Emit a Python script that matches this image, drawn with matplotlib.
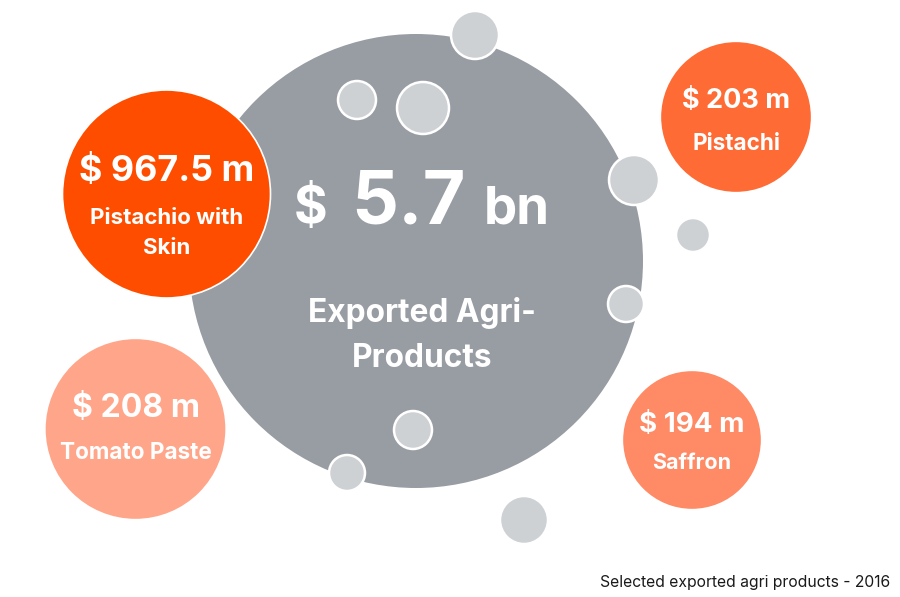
import matplotlib
matplotlib.use("Agg")
import matplotlib.pyplot as plt
from matplotlib.patches import Circle

# ---- data ----
total_value = "5.7"
total_prefix = "$"
total_unit = "bn"
total_label = ["Exported Agri-", "Products"]

products = ["Pistachio with\nSkin", "Pistachi", "Tomato Paste", "Saffron"]
product_values = ["$ 967.5 m", "$ 203 m", "$ 208 m", "$ 194 m"]
footnote = "Selected exported agri products - 2016"

# ---- layout (pixel space) ----
big_circle = dict(xy=(416, 261), r=227)
product_layout = [
    dict(xy=(166.5, 194), r=104, color="#FF4D00", vsize=25.8, lsize=16, vy=181, ly=[224, 254], edge=True),
    dict(xy=(736, 117), r=74, color="#FF6B35", vsize=19.5, lsize=16.2, vy=108, ly=[150], edge=False),
    dict(xy=(135.5, 429), r=89, color="#FFA68A", vsize=23, lsize=16.2, vy=417, ly=[459], edge=False),
    dict(xy=(692, 440), r=68, color="#FF8A66", vsize=20, lsize=15.5, vy=432, ly=[469], edge=False),
]
small_bubbles = [
    ((475, 35), 24), ((357, 100), 19), ((423, 108), 26), ((634, 180), 25),
    ((693, 235), 17), ((626, 304), 18), ((413, 430), 19), ((347, 473), 18),
    ((524, 520), 24),
]

FONT = ["Inter", "DejaVu Sans"]
plt.rcParams["font.family"] = FONT

fig = plt.figure(figsize=(9, 5.97), dpi=100)
ax = fig.add_axes([0, 0, 1, 1])
ax.set_xlim(0, 900)
ax.set_ylim(597, 0)
ax.set_aspect("equal")
ax.axis("off")

ax.add_patch(Circle(big_circle["xy"], big_circle["r"], facecolor="#989CA3",
                    edgecolor="none", zorder=1))

for (xy, r) in small_bubbles:
    ax.add_patch(Circle(xy, r, facecolor="#CED1D4", edgecolor="white",
                        linewidth=1.8, zorder=3))

for name, val, lay in zip(products, product_values, product_layout):
    ax.add_patch(Circle(lay["xy"], lay["r"], facecolor=lay["color"],
                        edgecolor="white" if lay["edge"] else lay["color"],
                        linewidth=1.2, zorder=2))
    cx = lay["xy"][0]
    ax.text(cx, lay["vy"], val, color="white", fontsize=lay["vsize"],
            fontweight="bold", ha="center", va="baseline", zorder=5)
    for line, y in zip(name.split("\n"), lay["ly"]):
        ax.text(cx, y, line, color="white", fontsize=lay["lsize"],
                fontweight="bold", ha="center", va="baseline", zorder=5)

# big value with mixed sizes
fig.canvas.draw()
renderer = fig.canvas.get_renderer()
pieces = [(total_prefix, 37), (total_value, 53), (total_unit, 38)]
gaps = [24, 18]
tmp = []
widths = []
for s, fs in pieces:
    t = ax.text(0, 223, s, fontsize=fs, fontweight="bold", color="white",
                ha="left", va="baseline", zorder=5)
    bb = t.get_window_extent(renderer=renderer)
    widths.append(bb.width)
    tmp.append(t)
total_w = sum(widths) + sum(gaps)
x = 422 - total_w / 2
for i, (t, w) in enumerate(zip(tmp, widths)):
    t.set_x(x)
    x += w + (gaps[i] if i < len(gaps) else 0)

for line, y in zip(total_label, [322, 367]):
    ax.text(422, y, line, color="white", fontsize=22.8, fontweight="bold",
            ha="center", va="baseline", zorder=5)

ax.text(890, 587, footnote, color="#1a1a1a", fontsize=11.3, ha="right",
        va="baseline", zorder=5)

fig.savefig("out.png", dpi=100)
